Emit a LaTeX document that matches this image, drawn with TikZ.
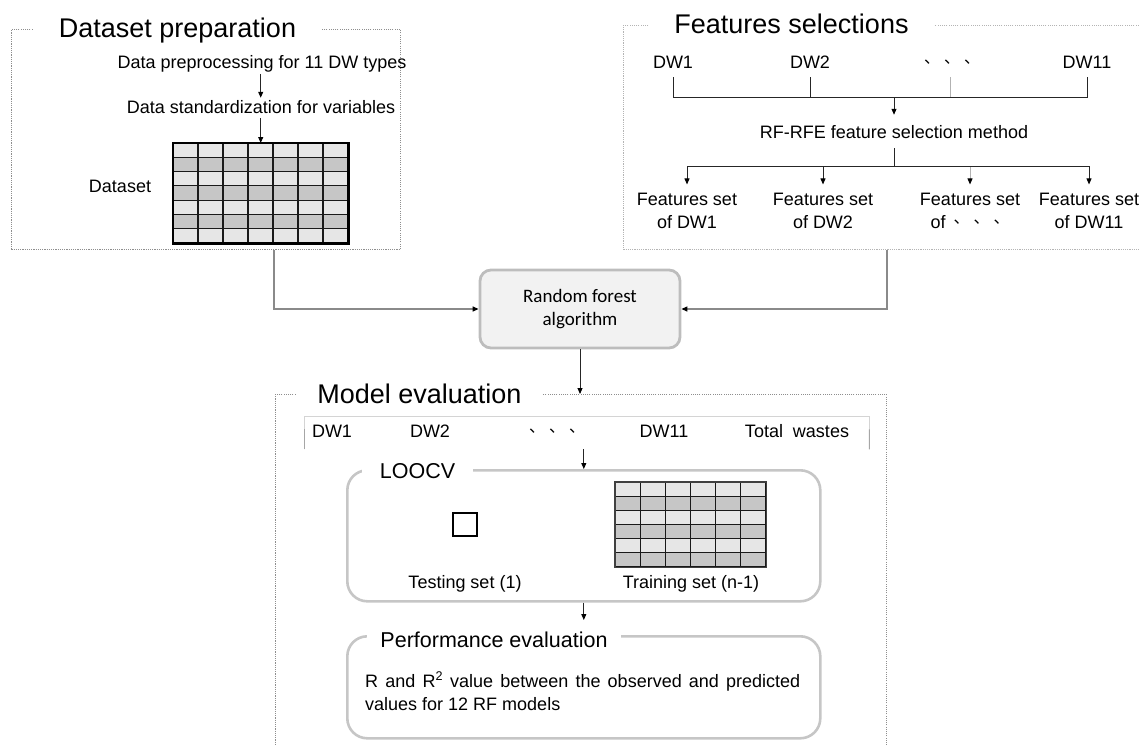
\documentclass[tikz,border=0pt]{standalone}
\usepackage{fontspec}
\setmainfont{Liberation Sans}
\newfontfamily\calfont{Carlito}
\newfontfamily\cjkfont{Noto Sans CJK SC}
\usetikzlibrary{arrows.meta,calc}

\definecolor{dotgray}{HTML}{8E8E8E}
\definecolor{dotlight}{HTML}{B4B4B4}
\definecolor{panelgray}{HTML}{C6C6C6}
\definecolor{rfedge}{HTML}{BDBDBD}
\definecolor{rffill}{HTML}{F2F2F2}
\definecolor{cellA}{HTML}{E6E6E6}
\definecolor{cellB}{HTML}{C6C6C6}
\definecolor{feedgray}{HTML}{8A8A8A}
\definecolor{hdrgray}{HTML}{D4D4D4}

% three ideographic commas used as an ellipsis
\newcommand\ideodots{{\fontsize{16}{16}\selectfont\raisebox{0.3em}{\cjkfont 、\hspace{4pt}、\hspace{4pt}、}}}

% shaded table: node name, columns, rows, cell width, cell height
\newcommand\cellgrid[5]{%
  \foreach \r in {1,...,#3}{%
    \ifodd\r\relax\def\shade{cellA}\else\def\shade{cellB}\fi
    \fill[\shade] ([yshift={-(\r-1)*#5}]#1.north west) rectangle ([yshift={-\r*#5}]#1.north east);
  }%
  \foreach \c in {1,...,#2}{%
    \draw[gridline] ([xshift={\c*#4}]#1.north west) -- ([xshift={\c*#4}]#1.south west);
  }%
  \foreach \r in {1,...,#3}{%
    \draw[gridline] ([yshift={-\r*#5}]#1.north west) -- ([yshift={-\r*#5}]#1.north east);
  }%
}

\begin{document}
\begin{tikzpicture}[x=1pt, y=-1pt,
  txt/.style={font=\fontsize{18}{23}\selectfont, inner sep=2pt, anchor=base},
  ttl/.style={font=\fontsize{27}{30}\selectfont, fill=white, inner xsep=25pt, inner ysep=1pt, anchor=base},
  sub/.style={font=\fontsize{21.5}{24}\selectfont, fill=white, inner ysep=1pt, anchor=base},
  dotbox/.style={draw=dotgray, line width=0.9pt, dash pattern=on 1.1pt off 1.1pt, inner sep=0pt, anchor=north west},
  panel/.style={draw=panelgray, line width=2.6pt, rounded corners=20pt, inner sep=0pt, anchor=north west},
  tablebox/.style={inner sep=0pt, anchor=north west},
  gridline/.style={draw=black!90, line width=1.2pt},
  conn/.style={draw=black!85, line width=0.9pt},
  arr/.style={conn, -{Triangle[length=6pt,width=5pt,color=black]}},
  feed/.style={draw=feedgray, line width=1.2pt, -{Triangle[length=6pt,width=5pt,color=black]}},
  faint/.style={draw=black!30}
]
\useasboundingbox (0,0) rectangle (1140,744);

%% ---------------- Dataset preparation ----------------
\node[dotbox, minimum width=389pt, minimum height=220pt] (dpbox) at (11,29) {};
\node[ttl] (dptitle) at (177.5,37) {Dataset preparation};
\node[txt] (dp1) at (262,68) {Data preprocessing for 11 DW types};
\node[txt] (dp2) at (261,113) {Data standardization for variables};
\node[tablebox, minimum width=175pt, minimum height=100pt] (dsgrid) at (173,143) {};
\cellgrid{dsgrid}{7}{7}{25pt}{14.2857pt}
\draw[black, line width=2.4pt] (dsgrid.north west) rectangle (dsgrid.south east);
\node[txt] (dslbl) at (120,192) {Dataset};
\draw[arr] (dp1.south -| dsgrid.north) -- (dp2.north -| dsgrid.north);
\draw[arr, shorten <=3pt] (dp2.south -| dsgrid.north) -- (dsgrid.north);

%% ---------------- Features selections ----------------
\node[dotbox, draw=dotlight, minimum width=600pt, minimum height=224pt] (fsbox) at (623,25) {};
\node[ttl] (fstitle) at (791.5,33) {Features selections};
\node[txt] (fw1) at (673,68) {DW1};
\node[txt] (fw2) at (810,68) {DW2};
\node[txt] (fw3) at (952,68) {\ideodots};
\node[txt] (fw4) at (1087,68) {DW11};
\coordinate (bus) at (894,97);
\draw[conn, shorten <=7pt] (fw1.south) |- (bus);
\draw[conn, shorten <=7pt] (fw2.south) -- (fw2.south |- bus);
\draw[conn, faint] (950,77) -- (950,97);
\draw[conn, shorten <=7pt] (fw4.south) |- (bus);
\node[txt] (rfrfe) at (894,138) {RF-RFE feature selection method};
\draw[arr, shorten >=8pt] (bus) -- (rfrfe.north);
\coordinate (split) at (894,166);
\draw[conn, shorten <=8pt] (rfrfe.south) -- (split);
\node[txt, align=center] (fs1) at (687,228) {Features set\\of DW1};
\node[txt, align=center] (fs2) at (823,228) {Features set\\of DW2};
\node[txt, align=center] (fs3) at (970,228) {Features set\\of\hspace{8pt}\ideodots};
\node[txt, align=center] (fs4) at (1089,228) {Features set\\of DW11};
\draw[arr, shorten >=6pt] (split) -| (fs1.north);
\draw[arr, shorten >=6pt] (split) -| (fs2.north);
\draw[arr, faint, shorten >=6pt] (split) -| (fs3.north);
\draw[arr, shorten >=6pt] (split) -| (fs4.north);

%% ---------------- Random forest ----------------
\node[draw=rfedge, fill=rffill, line width=2.8pt, rounded corners=11pt,
      minimum width=200pt, minimum height=78pt, align=center,
      font=\calfont\fontsize{19}{23}\selectfont] (rf) at (580,309) {Random forest\\algorithm};
\draw[feed] ([xshift=263pt]dpbox.south west) |- (rf.west);
\draw[feed] ([xshift=264pt]fsbox.south west) |- (rf.east);

%% ---------------- Model evaluation ----------------
\node[dotbox, minimum width=611pt, minimum height=380pt] (mebox) at (275,394) {};
\node[ttl, inner xsep=20pt] (metitle) at (419.5,403) {Model evaluation};
\draw[arr] (rf.south) -- (rf.south |- mebox.north);

\node[inner sep=0pt, anchor=north west, minimum width=565pt, minimum height=33pt] (hdr) at (304,416) {};
\draw[draw=hdrgray, line width=1pt] (hdr.south west) |- (hdr.north east) -- (hdr.south east);
\draw[draw=black!35, line width=1pt] (hdr.south west) -- ($(hdr.south west)!0.6!(hdr.north west)$);
\draw[draw=black!35, line width=1pt] (hdr.south east) -- ($(hdr.south east)!0.6!(hdr.north east)$);
\node[txt] (mh1) at (332,437) {DW1};
\node[txt] (mh2) at (430,437) {DW2};
\node[txt] (mh3) at (557,437) {\ideodots};
\node[txt] (mh4) at (664,437) {DW11};
\node[txt] (mh5) at (797,437) {Total\ \ wastes};

% LOOCV panel
\node[panel, minimum width=473pt, minimum height=131pt] (loocv) at (346,469) {};
\node[sub, inner xsep=18pt] (lootitle) at (417.5,478) {LOOCV};
\draw[arr] (loocv.north |- hdr.south) -- (loocv.north);
\node[draw=black, line width=1.2pt, inner sep=0pt, minimum width=24pt, minimum height=23pt] (testsq) at (465,524.5) {};
\node[txt] (testlbl) at (465,588) {Testing set (1)};
\node[tablebox, minimum width=151pt, minimum height=85pt] (trgrid) at (615,482) {};
\cellgrid{trgrid}{6}{6}{25.1667pt}{14.1667pt}
\draw[black!75, line width=1.6pt] (trgrid.north west) rectangle (trgrid.south east);
\node[txt] (trlbl) at (691,588) {Training set (n-1)};

% Performance panel
\node[panel, minimum width=473pt, minimum height=102pt] (perf) at (346,635) {};
\node[sub, inner xsep=13pt] (perftitle) at (494,647) {Performance evaluation};
\draw[arr] (loocv.south) -- ([yshift=15pt]perf.north);
\node[txt, anchor=base west, inner sep=0pt] (perf1) at (365,687)
  {\makebox[435pt][s]{R and R\textsuperscript{2} value between the observed and predicted}};
\node[txt, anchor=base west, inner sep=0pt] (perf2) at (365,710) {values for 12 RF models};
\end{tikzpicture}
\end{document}
